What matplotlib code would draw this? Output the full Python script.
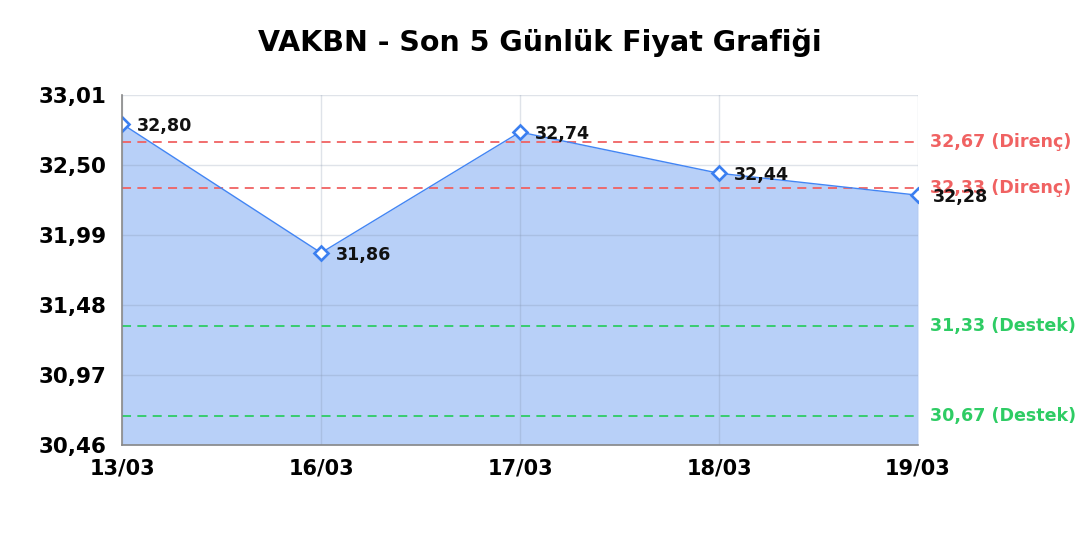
import matplotlib
matplotlib.use("Agg")
import matplotlib.pyplot as plt

# data
dates = ["13/03", "16/03", "17/03", "18/03", "19/03"]
prices = [32.80, 31.86, 32.74, 32.44, 32.28]
resistance = [32.67, 32.33]
support = [31.33, 30.67]
yticks = [30.46, 30.97, 31.48, 31.99, 32.50, 33.01]

plt.rcParams['font.family'] = ['DejaVu Sans']

fig = plt.figure(figsize=(10.8, 5.4), dpi=100)
ax = fig.add_axes([0.113, 0.176, 0.737, 0.648])

x = list(range(len(dates)))
ax.fill_between(x, prices, yticks[0], color='#b8d0f8', lw=0, zorder=1)
ax.plot(x, prices, color='#4285f4', lw=1.0, zorder=3)
ax.plot(x, prices, ls='none', marker='D', ms=7.2, mfc='white', mec='#3b7ff0',
        mew=1.9, zorder=4)

for xi, p in zip(x, prices):
    ax.annotate(f"{p:.2f}".replace('.', ','), (xi, p), xytext=(11, -1.5),
                textcoords='offset points', ha='left', va='center',
                fontsize=12.6, fontweight='bold', color='#111111', zorder=6)

for r in resistance:
    ax.axhline(r, color='#f06262', ls=(0, (5, 3.5)), lw=1.3, zorder=2)
    ax.text(1.015, r, f"{r:.2f} (Direnç)".replace('.', ','), transform=ax.get_yaxis_transform(),
            ha='left', va='center', fontsize=12.6, fontweight='bold', color='#f06262')
for s in support:
    ax.axhline(s, color='#2ecc64', ls=(0, (5, 3.5)), lw=1.3, zorder=2)
    ax.text(1.015, s, f"{s:.2f} (Destek)".replace('.', ','), transform=ax.get_yaxis_transform(),
            ha='left', va='center', fontsize=12.6, fontweight='bold', color='#2ecc64')

ax.set_xlim(0, len(dates) - 1)
ax.set_ylim(yticks[0], yticks[-1])
ax.set_xticks(x)
ax.set_xticklabels(dates, fontsize=15, fontweight='bold')
ax.set_yticks(yticks)
ax.set_yticklabels([f"{t:.2f}".replace('.', ',') for t in yticks], fontsize=15.5,
                   fontweight='bold')
ax.tick_params(axis='y', length=0, pad=11)
ax.tick_params(axis='x', length=0, pad=10)
ax.grid(True, color='#8090a8', alpha=0.25, lw=1)
for gl in ax.get_xgridlines() + ax.get_ygridlines():
    gl.set_zorder(1.5)
for side in ['top', 'right']:
    ax.spines[side].set_visible(False)
for side in ['left', 'bottom']:
    ax.spines[side].set_color('#888888')
    ax.spines[side].set_linewidth(1.2)
    ax.spines[side].set_zorder(5)

fig.suptitle("VAKBN - Son 5 Günlük Fiyat Grafiği", x=0.5, y=0.947, fontsize=20.5,
             fontweight='bold')

fig.savefig("out.png", dpi=100)
